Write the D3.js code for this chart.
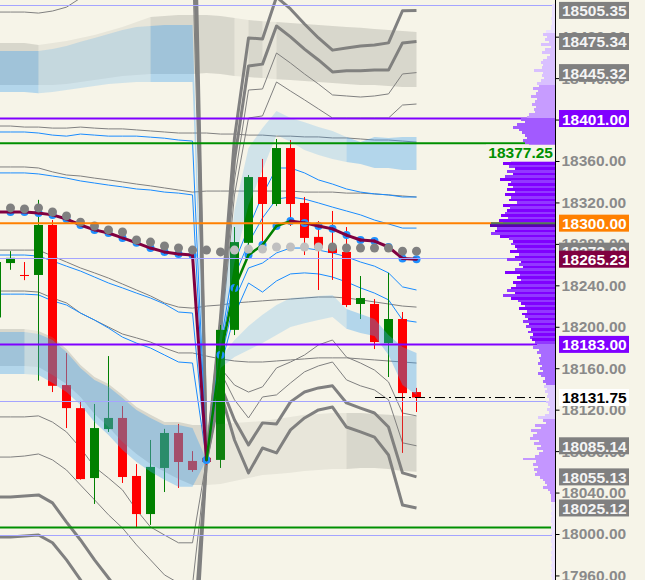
<!DOCTYPE html>
<html>
<head>
<meta charset="utf-8">
<script src="https://cdn.jsdelivr.net/npm/d3@7"></script>
<style>
    body { margin: 0; background: #f6f4e8; }
    svg { display: block; }
</style>
</head>
<body>
<svg id="chart" width="645" height="580"></svg>
<script>
// ---- bars (index -1 is the partly hidden bar at the left edge) ----
const firstBar = -1;
const sessionStart = 14;
const barOpen  = [18209, 18261.5, 18250, 18250, 18298.25, 18143.75, 18121.5, 18054, 18101.25, 18112, 18056, 18019.25, 18063.75, 18097.5, 18070.5, 18073.5, 18071.5, 18197, 18281, 18344.5, 18318.5, 18372.5, 18319.5, 18286.75, 18277, 18272.25, 18222, 18222, 18184.25, 18207.5, 18137];
const barHigh  = [18274, 18273, 18262.5, 18322.5, 18303, 18174.75, 18128.5, 18125.5, 18171.75, 18123.5, 18067.5, 18090.75, 18101.5, 18106.25, 18080, 18076.25, 18201.75, 18296.25, 18346.5, 18362, 18381.25, 18380.25, 18325.25, 18302, 18311.75, 18296.25, 18249, 18226.75, 18252, 18214.25, 18141];
const barLow   = [18197, 18255, 18245, 18148, 18137, 18102.25, 18052.5, 18029, 18098.5, 18049.25, 18006.75, 18008.75, 18040.5, 18044.5, 18060, 18066.5, 18063.75, 18192, 18279, 18277, 18316.5, 18297.25, 18269.25, 18235.5, 18245.25, 18219, 18207.5, 18178.5, 18151.5, 18078.25, 18117.75];
const barClose = [18262.5, 18266.5, 18249, 18298.25, 18143, 18121.5, 18053, 18102.25, 18112, 18055, 18019.25, 18064.75, 18097.5, 18069.5, 18061.75, 18069.5, 18197, 18281.75, 18344.5, 18318.5, 18372.5, 18318.5, 18285.75, 18276, 18271.25, 18221, 18227.75, 18185.25, 18207.5, 18136, 18131.75];

// ---- session VWAP (previous session -1..13, current session 14..29) ----
const vwapPrev  = [18310.75, 18310.75, 18310.75, 18309.75, 18308, 18304, 18298.25, 18293.5, 18290.5, 18285.75, 18281, 18276, 18272.25, 18270.25, 18269.25];
const vwapToday = [18071.5, 18172.75, 18237.5, 18269.25, 18279, 18297.25, 18302, 18300.25, 18297.25, 18294.5, 18288.5, 18283.75, 18282.75, 18277, 18266, 18265.23];

// reference dots, bars 0..29
const refDots = [18314.75, 18313.75, 18314.75, 18310.75, 18307, 18301, 18297.25, 18293.5, 18291.5, 18283.75, 18281.75, 18278, 18276, 18274,
                 18274, 18272.25, 18274, 18275, 18275, 18277, 18277, 18277, 18277, 18277, 18276, 18276, 18276, 18276, 18273, 18273];
const refDotsFaded = [16, 17, 18, 19, 20, 21, 22];

// ---- previous session deviation lines, bars -1..13 ----
const prevBlue1 = [18388, 18388, 18388, 18387, 18385, 18384, 18386, 18385, 18384, 18384, 18384, 18383, 18382, 18380.25, 18379.25];
const prevBlue2 = [18348.5, 18348.5, 18348.5, 18347.5, 18345.5, 18343.5, 18340.75, 18338.75, 18336.75, 18335, 18333, 18332, 18330, 18329, 18327.25];
const prevBlue3 = [18269.25, 18269.25, 18269.25, 18268.25, 18263.5, 18258.5, 18253.75, 18248, 18242.25, 18237.5, 18232.5, 18227.75, 18222, 18214.25, 18213.25];
const prevBlue4 = [18231.5, 18231.5, 18231.5, 18230.75, 18225, 18221, 18213.25, 18206.5, 18198.75, 18190, 18184.25, 18179.5, 18172.75, 18166, 18165];
const prevUp1 = [18503.75, 18503.75, 18503.75, 18502.75, 18504.75, 18508.5, 18517.25, 18525, 18527, 18529, 18536.5, 18544.25, 18547.25, 18550, 18550];
const prevUp2 = [18545.25, 18545.25, 18544.25, 18540.5, 18542.5, 18544.25, 18551, 18556, 18560.75, 18561.75, 18568.5, 18575.25, 18584, 18587.75, 18587.75];
const prevUp3 = [18584, 18584, 18583, 18580, 18584, 18594.5, 18604.25, 18613.75, 18621.5, 18626.5, 18636, 18642.75, 18646.75, 18652.5, 18652.5];
const prevUp4 = [18622.5, 18622.5, 18621.5, 18618.75, 18623.5, 18636, 18648.5, 18660.25, 18669.75, 18677.5, 18689, 18696.75, 18703.5, 18708.5, 18708.5];
const prevDn1 = [18113, 18113, 18113, 18114, 18108, 18098.5, 18083, 18064.75, 18054, 18042.5, 18023.25, 18006.75, 17999, 17991.5, 17991.5];
const prevDn2 = [18074.25, 18074.25, 18075.25, 18077.25, 18071.5, 18061.75, 18047.25, 18033, 18018.5, 18005.75, 17989.5, 17975, 17960.5, 17952.75, 17950.75];
const prevDn3 = [18035.75, 18035.75, 18036.75, 18037.75, 18030, 18011.5, 17994.25, 17975, 17957.5, 17940.25, 17922, 17907.5, 17897.75, 17888, 17886.25];
const prevDn4 = [17997, 17997, 17998, 17999, 17991.5, 17975, 17955.75, 17936.25, 17917, 17897.75, 17878.5, 17864, 17854.25, 17844.5, 17842.75];

// ---- current session deviation lines, bars 14..29 ----
const todayBlue1 = [18071.5, 18184.25, 18262.5, 18295.25, 18327.25, 18353.25, 18353.25, 18348.5, 18341.75, 18337.75, 18333, 18330, 18328.25, 18327.25, 18325.25, 18325.25];
const todayBlue2 = [18071.5, 18178.5, 18249, 18281, 18305, 18323.25, 18325.25, 18323.25, 18319.5, 18315.5, 18311.75, 18308, 18303, 18299.25, 18295.25, 18295.25];
const todayBlue3 = [18071.5, 18167, 18226, 18256.75, 18261.5, 18271.25, 18276, 18276, 18274, 18271.25, 18267.5, 18262.5, 18258.5, 18252, 18238.5, 18235.5];
const todayBlue4 = [18071.5, 18161.25, 18211.5, 18242.25, 18233.5, 18244.25, 18251, 18252, 18251, 18248, 18243.25, 18237.5, 18232.5, 18226, 18206.5, 18204.5];
const todayUp1 = [18071.5, 18185.25, 18327.25, 18401.5, 18403.5, 18436.25, 18427.5, 18419, 18410.25, 18401.5, 18401.5, 18401.5, 18401.5, 18401.5, 18414, 18415];
const todayUp2 = [18071.5, 18189.25, 18341.75, 18428.5, 18429.5, 18464.25, 18454.5, 18444, 18434.25, 18423.75, 18422.75, 18421.75, 18422.75, 18424.75, 18444, 18445.32];
const todayUp3 = [18071.5, 18201.75, 18361, 18451.75, 18453.5, 18490.25, 18479.75, 18468, 18457.5, 18446, 18447, 18447, 18447.75, 18447.75, 18474, 18475.34];
const todayUp4 = [18071.5, 18208.5, 18382.25, 18478.75, 18477.75, 18518.25, 18506.75, 18492.25, 18478.75, 18467, 18469, 18471, 18472, 18474, 18505, 18505.35];
const todayDn1 = [18071.5, 18160.25, 18143.75, 18137, 18142, 18160.25, 18166, 18172.75, 18182.5, 18187.25, 18170.75, 18165, 18158.25, 18146.75, 18116.75, 18114];
const todayDn2 = [18071.5, 18156.5, 18129.5, 18112, 18132.25, 18134.25, 18145.75, 18156.5, 18162.25, 18166, 18148.75, 18143, 18139, 18129.5, 18088, 18085.14];
const todayDn3 = [18071.5, 18143.75, 18110, 18086, 18107.25, 18106.25, 18127.5, 18137, 18141, 18143, 18126.5, 18121.5, 18116.75, 18103.25, 18059, 18055.13];
const todayDn4 = [18071.5, 18137, 18090.75, 18059, 18083, 18078.25, 18100.5, 18112, 18119.75, 18122.5, 18103.25, 18098.5, 18093.5, 18076.25, 18028, 18025.12];

// ---- multi-session lines, bars -1..29 ----
const weekly1 = [18393.75, 18393.75, 18392.75, 18392.75, 18391.75, 18391.75, 18392.75, 18391.75, 18391, 18391, 18390, 18389, 18388, 18387, 18387,
                 18387, 18386, 18386, 18385, 18385, 18384, 18384, 18383.25, 18383.25, 18382.25, 18382.25, 18381.25, 18380.25, 18380.25, 18379.25, 18378.25];
const weekly2 = [18354.25, 18354.25, 18354.25, 18353.25, 18349.5, 18346.5, 18345.5, 18343.5, 18341.75, 18339.75, 18337.75, 18336, 18334, 18332, 18330,
                 18331, 18331, 18331, 18331, 18331, 18331, 18331, 18330, 18330, 18330, 18329, 18329, 18328.25, 18327.25, 18326.25, 18325.25];
const weekly3 = [18274, 18274, 18274, 18274, 18268.25, 18262.5, 18256.75, 18252, 18247, 18241.25, 18235.5, 18229.75, 18223, 18219, 18218,
                 18220, 18221, 18223, 18224, 18225, 18226, 18226.75, 18227.75, 18228.75, 18228.75, 18227.75, 18226, 18224, 18222, 18220, 18219];
const weekly4 = [18234.5, 18234.5, 18234.5, 18233.5, 18227.75, 18223, 18213.25, 18206.5, 18199.75, 18193, 18189.25, 18185.25, 18179.5, 18174.75, 18174.75,
                 18171.75, 18169, 18167, 18166, 18166, 18167, 18168, 18169, 18170, 18170, 18170, 18169, 18168, 18167, 18166, 18165];

// ---- filled zones ----
const weeklyUpTop = [18474, 18474, 18474, 18472, 18474, 18475.75, 18478.75, 18481.5, 18485.5, 18489.25, 18494.25, 18499, 18500, 18501, 18501,
                     18501, 18500, 18498, 18496, 18495, 18494.25, 18493.25, 18492.25, 18491.25, 18490.25, 18489.25, 18488.5, 18487.5, 18486.5, 18485.5, 18484.5];
const weeklyUpBot = [18433.25, 18433.25, 18433.25, 18433.25, 18433.25, 18434.25, 18436.25, 18438.25, 18440, 18442, 18443, 18444, 18444, 18444, 18444,
                     18445, 18444, 18442, 18441, 18440, 18439, 18438.25, 18437.25, 18436.25, 18435.25, 18434.25, 18433.25, 18433.25, 18432.5, 18431.5, 18431.5];
const weeklyDnTop = [18197.75, 18197.75, 18197.75, 18196, 18190, 18178.5, 18163, 18151.5, 18144.75, 18134.25, 18122.5, 18115, 18108, 18108, 18105.25,
                     18105.25, 18106.25, 18107.25, 18108, 18109, 18111, 18113, 18115, 18115.75, 18116.75, 18116.75, 18116.75, 18115.75, 18115, 18114, 18114];
const weeklyDnBot = [18162.25, 18162.25, 18162.25, 18161.25, 18153.5, 18144.75, 18132.25, 18115.75, 18103.25, 18088.75, 18077.25, 18067.5, 18060, 18053, 18047.25,
                     18047.25, 18048.25, 18051.25, 18054, 18057, 18058, 18059, 18060.75, 18061.75, 18062.75, 18062.75, 18063.75, 18063.75, 18062.75, 18060.75, 18060];
const prevFillUpTop = [18466.25, 18466.25, 18466.25, 18466.25, 18468, 18471, 18475, 18478.75, 18482.5, 18486.5, 18489.25, 18490.25, 18491.25, 18491.25, 18491.25];
const prevFillUpBot = [18426.5, 18426.5, 18426.5, 18425.5, 18426.5, 18428.5, 18430.5, 18432.5, 18434.25, 18435.25, 18436.25, 18436.25, 18436.25, 18436.25, 18436.25];
const prevFillDnTop = [18195, 18195, 18195, 18193, 18187.25, 18175.75, 18160.25, 18148.75, 18142, 18131.25, 18119.75, 18112, 18105.25, 18105.25, 18102.25];
const prevFillDnBot = [18154.5, 18154.5, 18154.5, 18153.5, 18145.75, 18137, 18124.5, 18108, 18095.5, 18081, 18069.5, 18060, 18052.25, 18045.5, 18045.5];
const todayFillUpTop = [18071.5, 18197, 18312.75, 18372.5, 18391.75, 18408.25, 18401.5, 18397.5, 18392.75, 18389, 18383.25, 18378.25, 18383.25, 18382.25, 18383.25, 18383.25];
const todayFillUpBot = [18071.5, 18177.5, 18262.5, 18317.5, 18351.25, 18385, 18378.5, 18370.5, 18365.75, 18362, 18359, 18357, 18353.25, 18353.25, 18351.25, 18351.25];
const todayFillDnTop = [18071.5, 18170, 18187.25, 18200.75, 18211.5, 18221, 18227.75, 18228.75, 18229.75, 18230.75, 18217.25, 18212.25, 18207.5, 18192, 18180.5, 18174.75];
const todayFillDnBot = [18071.5, 18160.25, 18170.75, 18177.5, 18184.25, 18192, 18199.75, 18203.5, 18206.5, 18209.5, 18198, 18194, 18191, 18172.75, 18143.75, 18134.25];
// intensity of each bar-to-bar segment (-1..28)
const weeklyUpDense  = [1,1,1,0,0,0,0,0,0,0,0,1,1,1,1,1,1,0,1,0,1,1,1,1,1,1,1,1,1,1];
const sessionUpDense = [1,1,1,0,0,0,0,0,0,0,0,1,1,1,1,0,0,0,0,0,0,0,0,0,0,1,1,1,1,1];
const lowerDense     = [1,1,0,1,1,1,1,1,1,1,1,1,1,1,1,0,0,0,0,0,0,0,0,0,0,1,1,1,1,1];

// ---- volume profile, 2.5 point rows from the top ----
const profileTop = 18510;
const profileStep = 2.5;
const profileVolume = [
    3,3,3,3,3,4,3,3,4,4, 9,12,8,10,6,14,4,10,13,5, 8,12,14,12,13,21,12,13,11,14,
    18,16,22,17,19,24,18,20,23,19, 21,20,26,28,34,30,38,42,36,33, 30,28,32,30,26,28,30,32,36,40,
    44,52,46,40,48,42,50,55,44,47, 42,48,40,50,44,46,38,52,45,48, 50,54,47,56,52,65,58,60,64,55,
    46,42,44,40,38,45,36,40,48,34, 36,32,40,50,35,38,34,42,39,44, 48,40,52,44,37,34,30,36,28,33,
    30,27,32,26,29,24,27,22,25,23, 20,18,22,16,18,14,16,15,17,13, 15,12,17,14,10,12,9,11,8,10,
    7,8,6,9,7,5,8,6,10,17, 12,9,20,14,24,18,22,25,16,21, 14,18,12,16,20,32,19,22,17,21,
    18,20,15,12,10,8,12,7,5,4, 4,4,3,4,4,3,4,3,4,4, 3,4,4,3,4,3,4,4,3,4, 3,4,3,4,4,3,4,3,4,3,4,3
];

// ---- horizontal levels ----
const levelPrices = [18401.00, 18377.25, 18300.00, 18183.00, 18006.25];
const levelKinds  = ['purple', 'green', 'orange', 'purple', 'green'];
const guidePrices = [18510.5, 18266, 18128, 17999];
const tickPrices  = [17960, 18000, 18040, 18080, 18120, 18160, 18200, 18240, 18280, 18320, 18360, 18400, 18440, 18480];

const colors = {
    bg: '#f6f4e8', bull: '#008000', bear: '#ff0000', gray: '#808080', blue: '#1a8cff',
    vwapDown: '#800040', vwapUp: '#008000', dot: '#808080', dotFaded: '#c0c0c0', dotBlue: '#1e90ff',
    purple: '#8000ff', green: '#009000', orange: '#ff8000', guide: '#a4a4ff'
};
const labelFont = 'bold 15.5px "Liberation Sans", Arial, sans-serif';

const svg = d3.select('#chart');
const W = 645, H = 580, axisX = 555.5;

const xs = d3.scaleLinear().domain([0, 29]).range([10.5, 416.5]);
const ys = d3.scaleLinear().domain([18000, 18360]).range([534, 161]);
const fmt = d3.format('.2f');
const openV = vwapToday[0];

svg.append('rect').attr('width', W).attr('height', H).attr('fill', colors.bg);
svg.append('defs').append('clipPath').attr('id', 'plot')
    .append('rect').attr('width', 555).attr('height', H);
const plot = svg.append('g').attr('clip-path', 'url(#plot)');

const toPts = (vals, start) => vals.map((v, k) => [start + k, v]);
const line = d3.line().x(d => xs(d[0])).y(d => ys(d[1]));

function drawLine(pts, color, width) {
    plot.append('path')
        .attr('d', line(pts))
        .attr('fill', 'none')
        .attr('stroke', color)
        .attr('stroke-width', width)
        .attr('stroke-linejoin', 'round');
}

// multi-session lines run straight through the session break
[weekly1, weekly2, weekly3, weekly4].forEach(v => drawLine(toPts(v, firstBar), colors.gray, 1));

// previous session lines end at the new session's opening vwap
const prevThin = [prevUp1, prevUp2, prevDn1, prevDn2], prevThick = [prevUp3, prevUp4, prevDn3, prevDn4];
prevThin.forEach(v => drawLine(toPts(v, firstBar).concat([[sessionStart, openV]]), colors.gray, 1));
prevThick.forEach(v => drawLine(toPts(v, firstBar).concat([[sessionStart, openV]]), colors.gray, 3));
[prevBlue1, prevBlue2, prevBlue3, prevBlue4].forEach(v =>
    drawLine(toPts(v, firstBar).concat([[sessionStart, openV]]), colors.blue, 1));

[todayUp1, todayUp2, todayDn1, todayDn2].forEach(v => drawLine(toPts(v, sessionStart), colors.gray, 1));
[todayUp3, todayUp4, todayDn3, todayDn4].forEach(v => drawLine(toPts(v, sessionStart), colors.gray, 3));
[todayBlue1, todayBlue2, todayBlue3, todayBlue4].forEach(v => drawLine(toPts(v, sessionStart), colors.blue, 1));

// candles
const bars = barOpen.map((o, k) => ({i: firstBar + k, o: o, h: barHigh[k], l: barLow[k], c: barClose[k]}));
const candleG = plot.append('g');
candleG.selectAll('line')
    .data(bars)
    .enter()
    .append('line')
    .attr('x1', d => xs(d.i)).attr('x2', d => xs(d.i))
    .attr('y1', d => ys(d.h)).attr('y2', d => ys(d.l))
    .attr('stroke', d => d.c > d.o ? colors.bull : colors.bear)
    .attr('stroke-width', 1);
candleG.selectAll('rect')
    .data(bars)
    .enter()
    .append('rect')
    .attr('x', d => xs(d.i) - 4.5)
    .attr('width', 9)
    .attr('y', d => ys(Math.max(d.o, d.c)))
    .attr('height', d => Math.max(1, ys(Math.min(d.o, d.c)) - ys(Math.max(d.o, d.c))))
    .attr('fill', d => d.c > d.o ? colors.bull : colors.bear);

// translucent zones, split into runs of equal intensity
function drawFill(top, bot, start, flags, dense, light) {
    const area = d3.area().x(d => xs(d.i)).y0(d => ys(d.b)).y1(d => ys(d.t));
    const n = top.length;
    let k0 = 0;
    for (let k = 1; k < n; k++) {
        const f = flags[start + k - 1 - firstBar];
        const next = k < n - 1 ? flags[start + k - firstBar] : null;
        if (next !== f) {
            const seg = d3.range(k0, k + 1).map(j => ({i: start + j, t: top[j], b: bot[j]}));
            plot.append('path').attr('d', area(seg)).attr('fill', f ? dense : light);
            k0 = k;
        }
    }
}
const grayDense = 'rgba(130,130,122,0.26)', grayLight = 'rgba(130,130,122,0.12)';
const blueDense = 'rgba(60,160,240,0.36)', blueLight = 'rgba(60,160,240,0.2)';
drawFill(weeklyUpTop, weeklyUpBot, firstBar, weeklyUpDense, grayDense, grayLight);
drawFill(weeklyDnTop, weeklyDnBot, firstBar, lowerDense, grayDense, grayLight);
drawFill(prevFillUpTop.concat([openV]), prevFillUpBot.concat([openV]), firstBar, sessionUpDense, blueDense, blueLight);
drawFill(prevFillDnTop.concat([openV]), prevFillDnBot.concat([openV]), firstBar, lowerDense, blueDense, blueLight);
drawFill(todayFillUpTop, todayFillUpBot, sessionStart, sessionUpDense, blueDense, blueLight);
drawFill(todayFillDnTop, todayFillDnBot, sessionStart, lowerDense, blueDense, blueLight);

// vwap: blue markers, then the line coloured by direction, then reference dots
const vwapPts = toPts(vwapPrev, firstBar).concat(toPts(vwapToday, sessionStart));
plot.append('g').selectAll('circle')
    .data(vwapPts.filter(d => d[0] >= 0))
    .enter()
    .append('circle')
    .attr('cx', d => xs(d[0])).attr('cy', d => ys(d[1]))
    .attr('r', 4)
    .attr('fill', colors.dotBlue);
d3.pairs(vwapPts).forEach(([a, b]) => {
    const up = b[1] > a[1];
    plot.append('path')
        .attr('d', line([a, b]))
        .attr('stroke', up ? colors.vwapUp : colors.vwapDown)
        .attr('stroke-width', up ? 2.5 : 3)
        .attr('stroke-linecap', 'round')
        .attr('fill', 'none');
});
plot.append('g').selectAll('circle')
    .data(refDots)
    .enter()
    .append('circle')
    .attr('cx', (d, k) => xs(k)).attr('cy', d => ys(d))
    .attr('r', 4.5)
    .attr('fill', (d, k) => refDotsFaded.includes(k) ? colors.dotFaded : colors.dot);

// horizontal levels
const rowY = v => Math.round(ys(v)) + 0.5;
guidePrices.forEach(p => {
    plot.append('line').attr('x1', 0).attr('x2', 555).attr('y1', rowY(p)).attr('y2', rowY(p))
        .attr('stroke', colors.guide).attr('stroke-width', 1);
});
levelPrices.forEach((p, k) => {
    plot.append('line').attr('x1', 0).attr('x2', 555).attr('y1', ys(p)).attr('y2', ys(p))
        .attr('stroke', colors[levelKinds[k]]).attr('stroke-width', 2);
});

// volume profile against the price axis
const vaLow = levelPrices[3], vaHigh = levelPrices[1];
const zone = d3.scaleThreshold()
    .domain([18032, 18112, 18145, vaLow, vaHigh, levelPrices[0], 18435, 18484])
    .range(['#ece2ff', '#c496ff', '#dcc8ff', '#a86cff', 'va', '#a25aff', '#c79cff', '#d9c0ff', '#ebe0ff']);
const vx = d3.scaleLinear().domain([0, d3.max(profileVolume)]).range([0, 65]);
const poc = profileVolume.indexOf(d3.max(profileVolume));
plot.append('g').selectAll('rect')
    .data(profileVolume)
    .enter()
    .append('rect')
    .attr('x', d => 555 - vx(d))
    .attr('width', d => vx(d))
    .attr('y', (d, k) => ys(profileTop - k * profileStep + profileStep / 2))
    .attr('height', ys(0) - ys(profileStep) + 0.2)
    .attr('shape-rendering', 'crispEdges')
    .attr('fill', (d, k) => {
        const c = zone(profileTop - k * profileStep);
        if (c !== 'va') return c;
        if (k === poc) return '#5a00b0';
        return k % 2 ? '#8000ff' : '#9238ff';
    });

// orange level continues in a darker tone over the profile
plot.append('line').attr('x1', 491).attr('x2', 555).attr('y1', ys(levelPrices[2])).attr('y2', ys(levelPrices[2]))
    .attr('stroke', '#557755').attr('stroke-width', 2);

// last price marker line
const lastPrice = barClose[barClose.length - 1];
plot.append('line').attr('x1', 375).attr('x2', 548).attr('y1', rowY(lastPrice)).attr('y2', rowY(lastPrice))
    .attr('stroke', '#000').attr('stroke-width', 1).attr('stroke-dasharray', '10,4,2,4');

// value area high label sits left of the axis
plot.append('rect').attr('x', 486).attr('y', ys(vaHigh) + 1.5).attr('width', 69).attr('height', 17).attr('fill', colors.bg);
plot.append('text')
    .attr('x', 553).attr('y', ys(vaHigh) + 15)
    .attr('text-anchor', 'end')
    .style('font', labelFont)
    .style('fill', colors.green)
    .text(fmt(vaHigh));

// price axis
svg.append('line').attr('x1', axisX).attr('x2', axisX).attr('y1', 0).attr('y2', H)
    .attr('stroke', '#000').attr('stroke-width', 1);
const axis = d3.axisRight(ys).tickValues(tickPrices).tickFormat(fmt).tickSize(4).tickPadding(2).tickSizeOuter(0);
const axisG = svg.append('g').attr('transform', `translate(${axisX}, 0)`).call(axis);
axisG.select('.domain').remove();
axisG.selectAll('.tick line').attr('stroke', '#000');
axisG.selectAll('.tick text')
    .style('font', labelFont)
    .style('fill', '#8a8a8a');

// value boxes on the axis
function valueBox(v, fill, textColor) {
    const g = svg.append('g').attr('transform', `translate(559, ${ys(v)})`);
    g.append('rect').attr('x', 0).attr('y', -8.5).attr('width', 70).attr('height', 17).attr('fill', fill);
    g.append('text').attr('x', 3).attr('y', 6)
        .style('font', labelFont)
        .style('fill', textColor)
        .text(fmt(v));
}
const last = a => a[a.length - 1];
[todayUp4, todayUp3, todayUp2, todayDn2, todayDn3, todayDn4].forEach(a => valueBox(last(a), '#808080', '#f4f4f4'));
valueBox(last(refDots), '#808080', '#f4f4f4');
valueBox(levelPrices[0], colors.purple, '#fff');
valueBox(levelPrices[2], colors.orange, '#fff');
valueBox(last(vwapToday), colors.vwapDown, '#fff');
valueBox(levelPrices[3], colors.purple, '#fff');
valueBox(lastPrice, '#fff', '#000');
</script>
</body>
</html>
